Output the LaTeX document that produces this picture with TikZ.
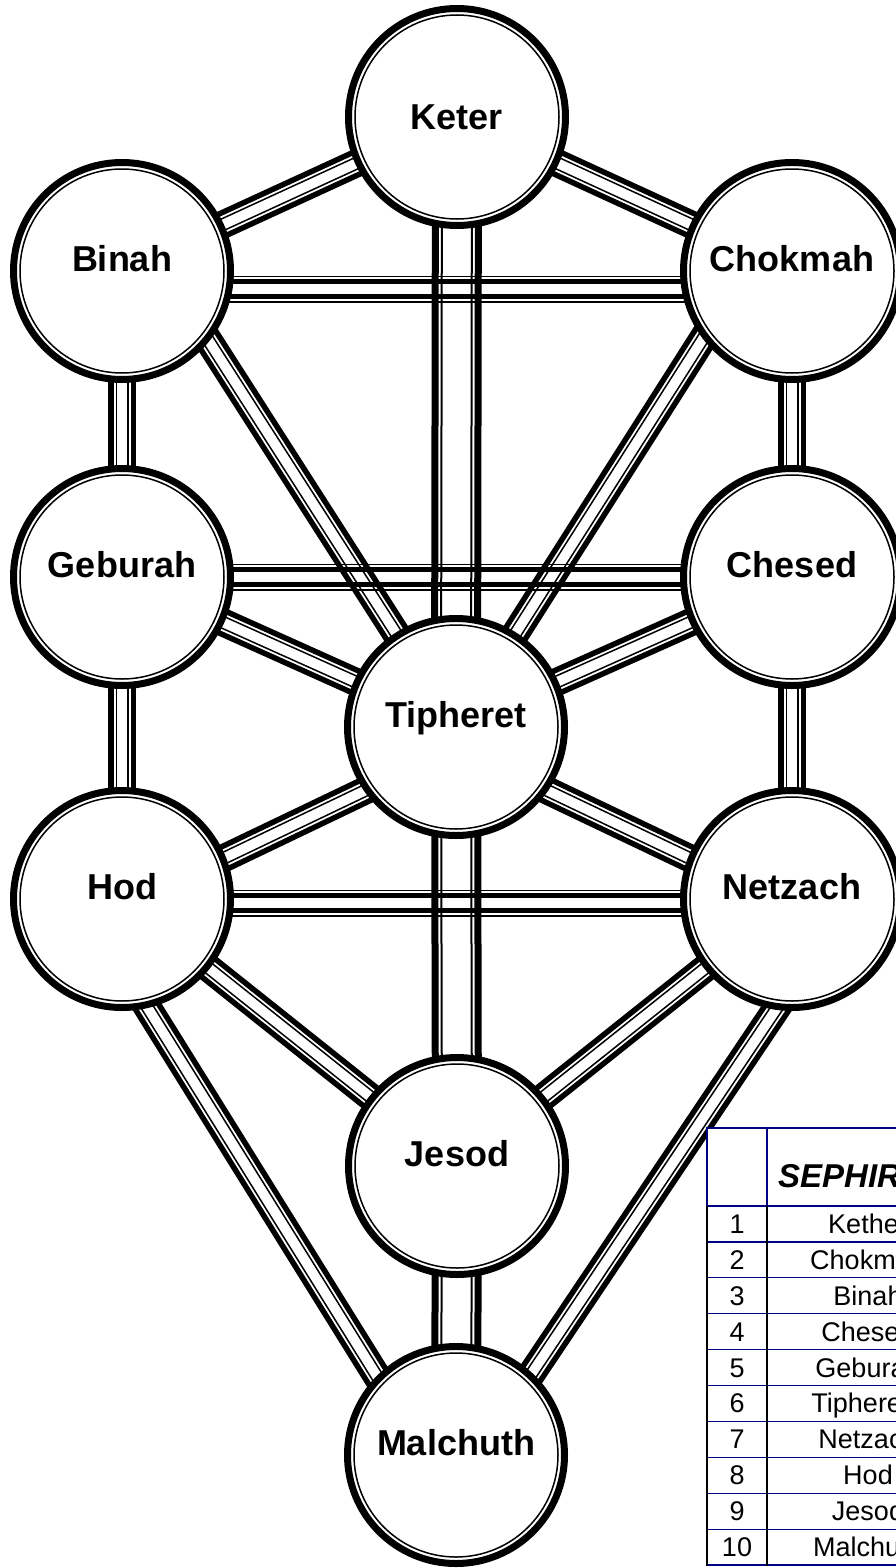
\documentclass[tikz,border=0pt]{standalone}
\usepackage{fontspec}
\newfontfamily\sefont{Liberation Sans}
\usetikzlibrary{calc,backgrounds}
\definecolor{tabnavy}{RGB}{0,0,128}

% one path of the tree: two thick and two thin parallel strokes
\newcommand{\sefpath}[6]{%
  \foreach \s/\r in {90/-90,-90/90}{%
    \draw[line width=#4] ($(#1.center)!#3!\s:(#2.center)$) -- ($(#2.center)!#3!\r:(#1.center)$);
    \draw[line width=#6] ($(#1.center)!#5!\s:(#2.center)$) -- ($(#2.center)!#5!\r:(#1.center)$);
  }}

\begin{document}
\begin{tikzpicture}[x=1pt,y=-1pt,
    sef/.style={circle,draw,line width=7pt,fill=white,minimum size=217pt,inner sep=0pt,
      font=\sefont\bfseries\fontsize{36}{40}\selectfont,text height=26pt,text depth=26pt},
    tabcell/.style={inner sep=0pt,font=\sefont\fontsize{27}{30}\selectfont,text height=19pt,text depth=0pt},
    tabhead/.style={inner sep=0pt,anchor=west,font=\sefont\bfseries\itshape\fontsize{33}{36}\selectfont,text height=24pt,text depth=0pt}]
  \useasboundingbox (0,0) rectangle (896,1568);
  \clip (0,0) rectangle (896,1568);
  % sephiroth
  \node[sef,text depth=0pt] (keter) at (457,117) {Keter};
  \foreach \n/\t/\x/\y in {chokmah/Chokmah/792/271, binah/Binah/122/271, chesed/Chesed/792/577,
      geburah/Geburah/122/577, tipheret/Tipheret/456/727, netzach/Netzach/792/899, hod/Hod/122/899,
      jesod/Jesod/457/1166, malchuth/Malchuth/456/1455}
    \node[sef] (\n) at (\x,\y) {\t};
  \foreach \n in {keter,chokmah,binah,chesed,geburah,tipheret,netzach,hod,jesod,malchuth}
    \draw[line width=1.5pt] (\n.center) circle (102pt);
  % off-centre ends of some paths
  \coordinate (binahC) at ($(binah.center)+(0,18)$);
  \coordinate (chokmahC) at ($(chokmah.center)+(0,18)$);
  \coordinate (binahT) at ($(binah.center)+(42,0)$);
  \coordinate (chokmahT) at ($(chokmah.center)+(-46,0)$);
  \coordinate (hodH) at ($(hod.center)+(0,4)$);
  \coordinate (netzachH) at ($(netzach.center)+(0,4)$);
  \coordinate (hodD) at ($(hod.center)+(0,8)$);
  \coordinate (netzachD) at ($(netzach.center)+(0,8)$);
  \coordinate (tipheretD) at ($(tipheret.center)+(0,20)$);
  \coordinate (hodM) at ($(hod.center)+(-42,0)$);
  \coordinate (netzachM) at ($(netzach.center)+(58,0)$);
  \coordinate (malchuthL) at ($(malchuth.center)+(-30,0)$);
  \coordinate (malchuthR) at ($(malchuth.center)+(21,0)$);
  % paths
  \begin{pgfonlayer}{background}
    \foreach \a/\b in {keter/chokmah, keter/binah, chokmah/chesed, binah/geburah, chesed/netzach,
        geburah/hod, chesed/tipheret, geburah/tipheret, netzach/jesod, hod/jesod, binahT/tipheret,
        chokmahT/tipheret, hodD/tipheretD, netzachD/tipheretD, hodM/malchuthL, netzachM/malchuthR}
      \sefpath{\a}{\b}{11.25pt}{5.5pt}{5.75pt}{1.5pt};
    \foreach \a/\b in {binahC/chokmahC, geburah/chesed, hodH/netzachH}
      \sefpath{\a}{\b}{12.75pt}{1.5pt}{7.5pt}{5pt};
    \foreach \a/\b in {keter/tipheret, tipheret/jesod, jesod/malchuth}
      \sefpath{\a}{\b}{21.5pt}{7pt}{15pt}{2pt};
  \end{pgfonlayer}
  % table
  \fill[white] (707,1128) rectangle (980,1566);
  \draw[tabnavy,line width=1.2pt] (707,1206) -- (707,1128) -- (980,1128) (767,1128) -- (767,1206);
  \foreach \k in {0,...,10}
    \draw[tabnavy,line width=1.2pt] (707,{1206+35.9*\k}) -- (980,{1206+35.9*\k});
  \draw[line width=2pt] (707,1206) -- (707,1566) (767,1206) -- (767,1566);
  \node[tabhead] (head) at (778,1175) {SEPHIROTH};
  \foreach \k/\nm in {1/Kether,2/Chokmah,3/Binah,4/Chesed,5/Geburah,6/Tiphereth,7/Netzach,8/Hod,9/Jesod,10/Malchuth}{
    \node[tabcell] (num\k) at (737,{1188+35.9*\k}) {\k};
    \node[tabcell] (name\k) at (868,{1188+35.9*\k}) {\nm};
  }
\end{tikzpicture}
\end{document}
